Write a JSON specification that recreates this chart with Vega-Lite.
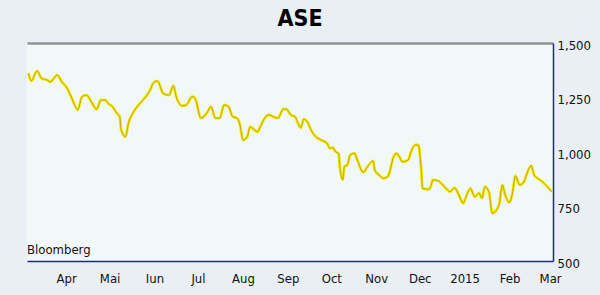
{
  "$schema": "https://vega.github.io/schema/vega-lite/v6.json",
  "width": 526,
  "height": 218,
  "autosize": {"type": "none"},
  "padding": {"left": 27, "top": 43, "right": 47, "bottom": 34},
  "background": "#e9eff4",
  "title": {"text": "ASE", "font": "DejaVu Sans Condensed, DejaVu Sans, sans-serif", "fontWeight": "bold", "fontSize": 23, "color": "#000000", "anchor": "middle", "dx": 10, "offset": 8},
  "config": {
    "view": {"fill": "#f1f8f7", "stroke": null},
    "axis": {"labelFont": "DejaVu Sans Condensed, DejaVu Sans, sans-serif", "labelFontSize": 13, "labelColor": "#111111", "grid": false, "ticks": false, "title": null}
  },
  "resolve": {"axis": {"x": "independent"}},
  "data": {"values": [
    {"date": "2014-03-06", "value": 1361},
    {"date": "2014-03-08", "value": 1326},
    {"date": "2014-03-12", "value": 1372},
    {"date": "2014-03-15", "value": 1338},
    {"date": "2014-03-19", "value": 1330},
    {"date": "2014-03-21", "value": 1322},
    {"date": "2014-03-26", "value": 1353},
    {"date": "2014-03-29", "value": 1322},
    {"date": "2014-04-01", "value": 1300},
    {"date": "2014-04-05", "value": 1246},
    {"date": "2014-04-09", "value": 1193},
    {"date": "2014-04-12", "value": 1254},
    {"date": "2014-04-15", "value": 1261},
    {"date": "2014-04-19", "value": 1223},
    {"date": "2014-04-22", "value": 1196},
    {"date": "2014-04-25", "value": 1238},
    {"date": "2014-04-28", "value": 1238},
    {"date": "2014-04-30", "value": 1223},
    {"date": "2014-05-03", "value": 1208},
    {"date": "2014-05-06", "value": 1178},
    {"date": "2014-05-08", "value": 1162},
    {"date": "2014-05-09", "value": 1101},
    {"date": "2014-05-12", "value": 1070},
    {"date": "2014-05-14", "value": 1132},
    {"date": "2014-05-17", "value": 1178},
    {"date": "2014-05-21", "value": 1216},
    {"date": "2014-05-25", "value": 1246},
    {"date": "2014-05-29", "value": 1284},
    {"date": "2014-05-31", "value": 1315},
    {"date": "2014-06-03", "value": 1326},
    {"date": "2014-06-07", "value": 1269},
    {"date": "2014-06-11", "value": 1261},
    {"date": "2014-06-14", "value": 1304},
    {"date": "2014-06-16", "value": 1254},
    {"date": "2014-06-20", "value": 1212},
    {"date": "2014-06-23", "value": 1216},
    {"date": "2014-06-27", "value": 1254},
    {"date": "2014-06-29", "value": 1246},
    {"date": "2014-07-03", "value": 1155},
    {"date": "2014-07-07", "value": 1178},
    {"date": "2014-07-10", "value": 1208},
    {"date": "2014-07-13", "value": 1155},
    {"date": "2014-07-16", "value": 1155},
    {"date": "2014-07-19", "value": 1216},
    {"date": "2014-07-22", "value": 1208},
    {"date": "2014-07-25", "value": 1162},
    {"date": "2014-07-28", "value": 1155},
    {"date": "2014-07-30", "value": 1124},
    {"date": "2014-08-01", "value": 1055},
    {"date": "2014-08-04", "value": 1070},
    {"date": "2014-08-06", "value": 1116},
    {"date": "2014-08-09", "value": 1101},
    {"date": "2014-08-11", "value": 1093},
    {"date": "2014-08-13", "value": 1116},
    {"date": "2014-08-16", "value": 1155},
    {"date": "2014-08-19", "value": 1170},
    {"date": "2014-08-22", "value": 1162},
    {"date": "2014-08-25", "value": 1155},
    {"date": "2014-08-29", "value": 1197},
    {"date": "2014-08-31", "value": 1197},
    {"date": "2014-09-03", "value": 1170},
    {"date": "2014-09-06", "value": 1162},
    {"date": "2014-09-08", "value": 1132},
    {"date": "2014-09-10", "value": 1111},
    {"date": "2014-09-12", "value": 1151},
    {"date": "2014-09-15", "value": 1132},
    {"date": "2014-09-17", "value": 1101},
    {"date": "2014-09-21", "value": 1066},
    {"date": "2014-09-24", "value": 1055},
    {"date": "2014-09-28", "value": 1040},
    {"date": "2014-09-30", "value": 1017},
    {"date": "2014-10-02", "value": 1020},
    {"date": "2014-10-04", "value": 1001},
    {"date": "2014-10-06", "value": 994},
    {"date": "2014-10-07", "value": 925},
    {"date": "2014-10-09", "value": 872},
    {"date": "2014-10-10", "value": 933},
    {"date": "2014-10-12", "value": 940},
    {"date": "2014-10-14", "value": 986},
    {"date": "2014-10-17", "value": 994},
    {"date": "2014-10-19", "value": 963},
    {"date": "2014-10-23", "value": 907},
    {"date": "2014-10-26", "value": 933},
    {"date": "2014-10-30", "value": 959},
    {"date": "2014-10-31", "value": 917},
    {"date": "2014-11-03", "value": 894},
    {"date": "2014-11-06", "value": 879},
    {"date": "2014-11-09", "value": 887},
    {"date": "2014-11-10", "value": 902},
    {"date": "2014-11-13", "value": 978},
    {"date": "2014-11-15", "value": 994},
    {"date": "2014-11-17", "value": 978},
    {"date": "2014-11-19", "value": 955},
    {"date": "2014-11-23", "value": 963},
    {"date": "2014-11-25", "value": 1001},
    {"date": "2014-11-28", "value": 1032},
    {"date": "2014-11-30", "value": 1032},
    {"date": "2014-12-02", "value": 925},
    {"date": "2014-12-03", "value": 833},
    {"date": "2014-12-07", "value": 829},
    {"date": "2014-12-09", "value": 849},
    {"date": "2014-12-10", "value": 872},
    {"date": "2014-12-14", "value": 867},
    {"date": "2014-12-17", "value": 849},
    {"date": "2014-12-22", "value": 818},
    {"date": "2014-12-25", "value": 836},
    {"date": "2014-12-28", "value": 803},
    {"date": "2014-12-31", "value": 765},
    {"date": "2015-01-02", "value": 795},
    {"date": "2015-01-05", "value": 833},
    {"date": "2015-01-08", "value": 795},
    {"date": "2015-01-11", "value": 811},
    {"date": "2015-01-13", "value": 788},
    {"date": "2015-01-15", "value": 841},
    {"date": "2015-01-18", "value": 811},
    {"date": "2015-01-20", "value": 719},
    {"date": "2015-01-23", "value": 734},
    {"date": "2015-01-25", "value": 765},
    {"date": "2015-01-27", "value": 849},
    {"date": "2015-01-29", "value": 803},
    {"date": "2015-02-01", "value": 769},
    {"date": "2015-02-03", "value": 811},
    {"date": "2015-02-05", "value": 891},
    {"date": "2015-02-08", "value": 849},
    {"date": "2015-02-11", "value": 864},
    {"date": "2015-02-13", "value": 902},
    {"date": "2015-02-16", "value": 937},
    {"date": "2015-02-18", "value": 894},
    {"date": "2015-02-22", "value": 872},
    {"date": "2015-02-25", "value": 856},
    {"date": "2015-02-27", "value": 841},
    {"date": "2015-03-02", "value": 818}
  ]},
  "layer": [
    {
      "mark": {"type": "line", "color": "#f2e600", "strokeWidth": 2.8, "interpolate": "monotone"},
      "encoding": {
        "x": {
          "field": "date", "type": "temporal",
          "scale": {"type": "utc", "domain": [{"year": 2014, "month": 3, "date": 5, "utc": true}, {"year": 2015, "month": 3, "date": 3, "utc": true}]},
          "axis": {
            "orient": "bottom", "domainColor": "#1c2a8c", "domainWidth": 1.5, "labelPadding": 11, "labelFlush": false,
            "values": [
              {"year": 2014, "month": 4, "date": 1, "utc": true},
              {"year": 2014, "month": 5, "date": 1, "utc": true},
              {"year": 2014, "month": 6, "date": 1, "utc": true},
              {"year": 2014, "month": 7, "date": 1, "utc": true},
              {"year": 2014, "month": 8, "date": 1, "utc": true},
              {"year": 2014, "month": 9, "date": 1, "utc": true},
              {"year": 2014, "month": 10, "date": 1, "utc": true},
              {"year": 2014, "month": 11, "date": 1, "utc": true},
              {"year": 2014, "month": 12, "date": 1, "utc": true},
              {"year": 2015, "month": 1, "date": 1, "utc": true},
              {"year": 2015, "month": 2, "date": 1, "utc": true},
              {"year": 2015, "month": 3, "date": 1, "utc": true}
            ],
            "labelExpr": "utcmonth(datum.value) == 0 ? '2015' : ['Jan','Feb','Mar','Apr','Mai','Iun','Jul','Aug','Sep','Oct','Nov','Dec'][utcmonth(datum.value)]"
          }
        },
        "y": {
          "field": "value", "type": "quantitative",
          "scale": {"domain": [500, 1500], "nice": false, "zero": false},
          "axis": {"orient": "right", "values": [500, 750, 1000, 1250, 1500], "format": ",.0f", "domainColor": "#1c2a8c", "domainWidth": 1.5, "labelPadding": 4, "labelAlign": "left", "labelOffset": 2}
        }
      }
    },
    {
      "mark": {"type": "line", "color": "#8a6a10", "strokeWidth": 0.8, "opacity": 0.6, "interpolate": "monotone"},
      "encoding": {
        "x": {"field": "date", "type": "temporal", "axis": {"orient": "top", "labels": false, "domainColor": "#8c9494", "domainWidth": 2.5, "ticks": false}},
        "y": {"field": "value", "type": "quantitative"}
      }
    },
    {
      "data": {"values": [{"source": "Bloomberg"}]},
      "mark": {"type": "text", "font": "DejaVu Sans Condensed, DejaVu Sans, sans-serif", "fontSize": 13, "align": "left", "baseline": "middle", "color": "#111111"},
      "encoding": {
        "text": {"field": "source", "type": "nominal"},
        "x": {"datum": {"year": 2014, "month": 3, "date": 5, "utc": true}, "type": "temporal", "axis": null},
        "y": {"datum": 550, "type": "quantitative"}
      }
    }
  ]
}
